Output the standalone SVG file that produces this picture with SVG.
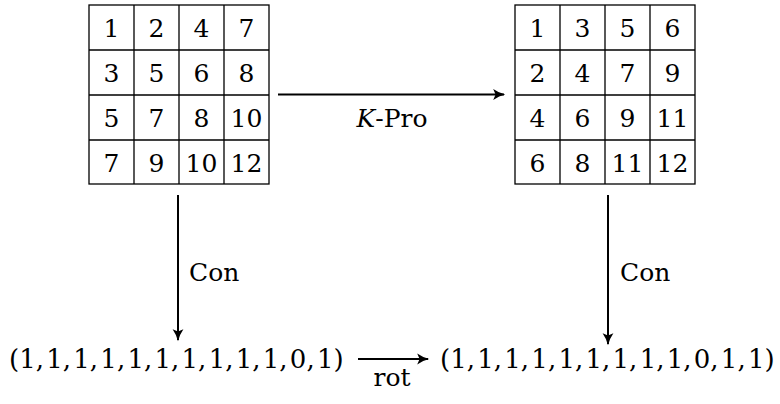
<svg xmlns="http://www.w3.org/2000/svg" width="780" height="404" viewBox="0 0 780 404" font-family="'DejaVu Serif', serif">
<style>
text{font-family:'DejaVu Serif',serif;font-size:25px;fill:#000}
.c{text-anchor:middle}
.t{font-size:26px;word-spacing:-6px}
.grid{fill:none;stroke:#000;stroke-width:1.3}
.edge{stroke:#000;stroke-width:2;fill:none}
</style>
<defs>
<marker id="ah" viewBox="0 0 10 10" refX="9" refY="5" markerWidth="12" markerHeight="12" markerUnits="userSpaceOnUse" orient="auto" overflow="visible">
<path d="M0,0.5 Q5,4 10,5 Q5,6 0,9.5 L2,5 Z" fill="#000"/>
</marker>
</defs>
<g id="gridA">
<rect class="grid" x="89" y="5" width="180" height="179"/>
<path class="grid" d="M134,5V184M179,5V184M224,5V184M89,50H269M89,95H269M89,140H269"/>
<text class="c" x="111.5" y="37">1</text><text class="c" x="156.5" y="37">2</text><text class="c" x="201.5" y="37">4</text><text class="c" x="246.5" y="37">7</text>
<text class="c" x="111.5" y="82">3</text><text class="c" x="156.5" y="82">5</text><text class="c" x="201.5" y="82">6</text><text class="c" x="246.5" y="82">8</text>
<text class="c" x="111.5" y="127">5</text><text class="c" x="156.5" y="127">7</text><text class="c" x="201.5" y="127">8</text><text class="c" x="246.5" y="127">10</text>
<text class="c" x="111.5" y="172">7</text><text class="c" x="156.5" y="172">9</text><text class="c" x="201.5" y="172">10</text><text class="c" x="246.5" y="172">12</text>
</g>
<g id="gridB">
<rect class="grid" x="515" y="5" width="180" height="179"/>
<path class="grid" d="M560,5V184M605,5V184M650,5V184M515,50H695M515,95H695M515,140H695"/>
<text class="c" x="537.5" y="37">1</text><text class="c" x="582.5" y="37">3</text><text class="c" x="627.5" y="37">5</text><text class="c" x="672.5" y="37">6</text>
<text class="c" x="537.5" y="82">2</text><text class="c" x="582.5" y="82">4</text><text class="c" x="627.5" y="82">7</text><text class="c" x="672.5" y="82">9</text>
<text class="c" x="537.5" y="127">4</text><text class="c" x="582.5" y="127">6</text><text class="c" x="627.5" y="127">9</text><text class="c" x="672.5" y="127">11</text>
<text class="c" x="537.5" y="172">6</text><text class="c" x="582.5" y="172">8</text><text class="c" x="627.5" y="172">11</text><text class="c" x="672.5" y="172">12</text>
</g>
<g id="tupleA">
<text class="t" x="9" y="368">(1, 1, 1, 1, 1, 1, 1, 1, 1, 1, 0, 1)</text>
</g>
<g id="tupleB">
<text class="t" x="440" y="368">(1, 1, 1, 1, 1, 1, 1, 1, 1, 0, 1, 1)</text>
</g>
<g id="connectors">
<line class="edge" x1="278" y1="94.5" x2="504" y2="94.5" marker-end="url(#ah)"/>
<text class="c" x="392" y="127"><tspan font-style="italic">K</tspan>-Pro</text>
<line class="edge" x1="178" y1="195" x2="178" y2="340" marker-end="url(#ah)"/>
<text x="189" y="281">Con</text>
<line class="edge" x1="608" y1="195" x2="608" y2="344" marker-end="url(#ah)"/>
<text x="620" y="281">Con</text>
<line class="edge" x1="358" y1="359" x2="428" y2="359" marker-end="url(#ah)"/>
<text class="c" x="392" y="386" font-size="23">rot</text>
</g>
</svg>
